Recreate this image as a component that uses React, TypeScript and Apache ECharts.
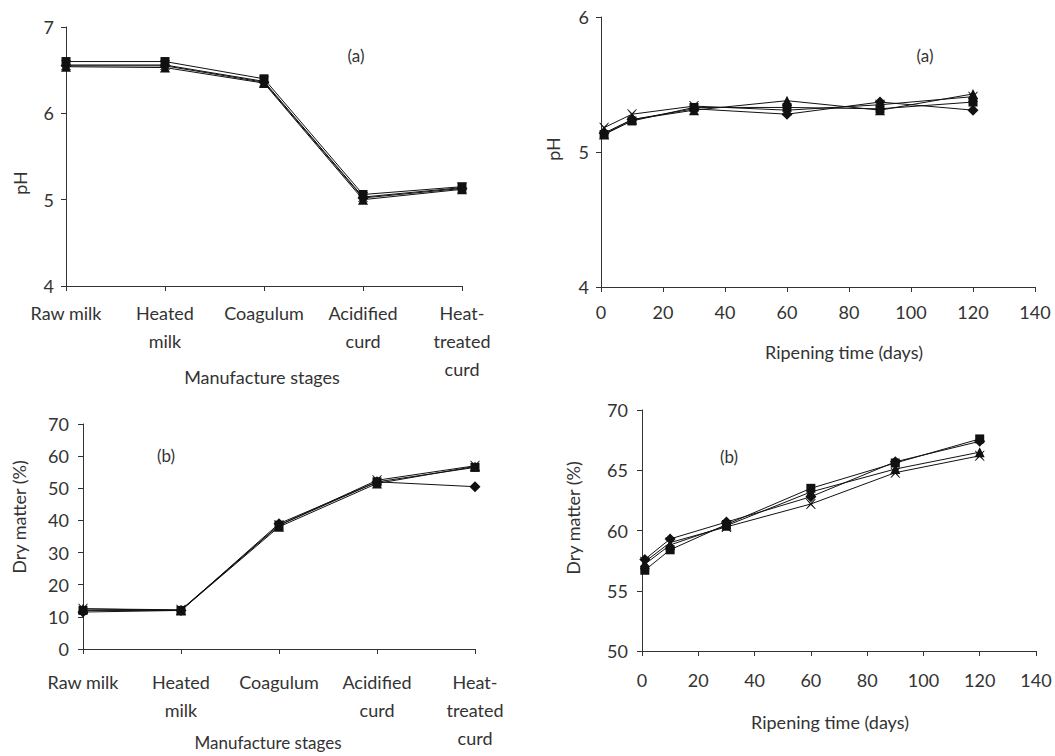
import React, { useEffect, useRef } from "react";
import * as echarts from "echarts";

// ---- Data ----
const STAGES = ["Raw milk", "Heated\nmilk", "Coagulum", "Acidified\ncurd", "Heat-\ntreated\ncurd"];
const DAYS = [1, 10, 30, 60, 90, 120];

// Manufacture stages - pH
const pHStageDiamond = [6.55, 6.55, 6.36, 5.02, 5.13];
const pHStageSquare = [6.6, 6.6, 6.4, 5.06, 5.15];
const pHStageTriangle = [6.54, 6.53, 6.35, 5.0, 5.12];
const pHStageCross = [6.56, 6.56, 6.37, 5.03, 5.14];

// Ripening - pH
const pHRipDiamond = [5.14, 5.24, 5.32, 5.28, 5.37, 5.31];
const pHRipSquare = [5.13, 5.23, 5.33, 5.33, 5.32, 5.37];
const pHRipTriangle = [5.13, 5.24, 5.31, 5.38, 5.31, 5.43];
const pHRipCross = [5.18, 5.28, 5.34, 5.31, 5.35, 5.41];

// Manufacture stages - dry matter
const dmStageDiamond = [11.5, 12, 39, 52, 50.5];
const dmStageSquare = [12, 12, 38.5, 52, 56.5];
const dmStageTriangle = [12.5, 12, 38, 51.5, 56.8];
const dmStageCross = [12.5, 12.2, 38.5, 52.5, 57];

// Ripening - dry matter
const dmRipDiamond = [57.6, 59.3, 60.7, 62.8, 65.7, 67.4];
const dmRipSquare = [56.7, 58.4, 60.5, 63.5, 65.6, 67.6];
const dmRipTriangle = [57.2, 58.8, 60.4, 63.2, 65.1, 66.5];
const dmRipCross = [57.4, 59.0, 60.3, 62.2, 64.8, 66.2];

const FONT = "Lato, 'Open Sans', sans-serif";
const TXT = "#333";
const AX = "#333";
const CROSS =
  "path://M0,0L2,0L10,8L18,0L20,0L12,10L20,20L18,20L10,12L2,20L0,20L8,10Z";

const SYMBOLS: [string, number][] = [
  ["diamond", 11],
  ["rect", 9],
  ["triangle", 10],
  [CROSS, 10],
];

function mkLines(idx: number, sets: number[][], xs?: number[]) {
  return sets.map((vals, i) => ({
    type: "line",
    xAxisIndex: idx,
    yAxisIndex: idx,
    data: xs ? vals.map((v, j) => [xs[j], v]) : vals,
    symbol: SYMBOLS[i][0],
    symbolSize: SYMBOLS[i][1],
    showSymbol: true,
    lineStyle: { color: "#111", width: 1 },
    itemStyle: { color: "#111" },
    emphasis: { disabled: true },
    silent: true,
  }));
}

function axisCommon(labelMargin: number) {
  return {
    axisLine: { show: true, lineStyle: { color: AX, width: 1 } },
    axisTick: { show: true, length: 5, inside: false, lineStyle: { color: AX, width: 1 } },
    splitLine: { show: false },
    axisLabel: { color: TXT, fontFamily: FONT, fontSize: 18, margin: labelMargin },
  };
}

function txt(text: string, x: number, y: number, size = 18, rot = 0) {
  return {
    type: "text",
    x,
    y,
    rotation: rot,
    silent: true,
    style: {
      text,
      x: 0,
      y: 0,
      font: `${size}px ${FONT}`,
      fill: TXT,
      align: "center",
      verticalAlign: "middle",
      textAlign: "center",
      textVerticalAlign: "middle",
    },
  };
}

export default function App() {
  const ref = useRef<HTMLDivElement>(null);
  useEffect(() => {
    if (!ref.current) return;
    const chart = echarts.init(ref.current, undefined, { renderer: "svg" });
    const option = {
      animation: false,
      backgroundColor: "#fff",
      grid: [
        { left: 66, top: 27, width: 396, height: 259 },
        { left: 601, top: 17, width: 434, height: 270 },
        { left: 83, top: 424, width: 392, height: 225 },
        { left: 642, top: 410, width: 394, height: 241 },
      ],
      xAxis: [
        {
          gridIndex: 0,
          type: "category",
          boundaryGap: false,
          data: STAGES,
          ...axisCommon(13),
          axisLabel: { color: TXT, fontFamily: FONT, fontSize: 18, margin: 13, lineHeight: 28, interval: 0 },
        },
        { gridIndex: 1, type: "value", min: 0, max: 140, interval: 20, ...axisCommon(16) },
        {
          gridIndex: 2,
          type: "category",
          boundaryGap: false,
          data: STAGES,
          ...axisCommon(19),
          axisLabel: { color: TXT, fontFamily: FONT, fontSize: 18, margin: 19, lineHeight: 28, interval: 0 },
        },
        { gridIndex: 3, type: "value", min: 0, max: 140, interval: 20, ...axisCommon(20) },
      ],
      yAxis: [
        { gridIndex: 0, type: "value", min: 4, max: 7, interval: 1, ...axisCommon(12) },
        { gridIndex: 1, type: "value", min: 4, max: 6, interval: 1, ...axisCommon(12) },
        { gridIndex: 2, type: "value", min: 0, max: 70, interval: 10, ...axisCommon(14) },
        { gridIndex: 3, type: "value", min: 50, max: 70, interval: 5, ...axisCommon(14) },
      ],
      series: [
        ...mkLines(0, [pHStageDiamond, pHStageSquare, pHStageTriangle, pHStageCross]),
        ...mkLines(1, [pHRipDiamond, pHRipSquare, pHRipTriangle, pHRipCross], DAYS),
        ...mkLines(2, [dmStageDiamond, dmStageSquare, dmStageTriangle, dmStageCross]),
        ...mkLines(3, [dmRipDiamond, dmRipSquare, dmRipTriangle, dmRipCross], DAYS),
      ],
      graphic: [
        txt("(a)", 356, 55, 17),
        txt("(a)", 925, 55, 17),
        txt("(b)", 166, 455, 17),
        txt("(b)", 729, 456, 17),
        txt("Manufacture stages", 262, 377),
        txt("Ripening time (days)", 844, 352),
        txt("Manufacture stages", 268, 742, 17),
        txt("Ripening time (days)", 830, 722),
        txt("pH", 20, 183, 18, Math.PI / 2),
        txt("pH", 553, 149, 18, Math.PI / 2),
        txt("Dry matter (%)", 19, 517, 18, Math.PI / 2),
        txt("Dry matter (%)", 573, 518, 18, Math.PI / 2),
      ],
    };
    chart.setOption(option as any);
    return () => chart.dispose();
  }, []);
  return (
    <div
      ref={ref}
      style={{ position: "fixed", left: 0, top: 0, width: 1055, height: 756, background: "#fff" }}
    />
  );
}
